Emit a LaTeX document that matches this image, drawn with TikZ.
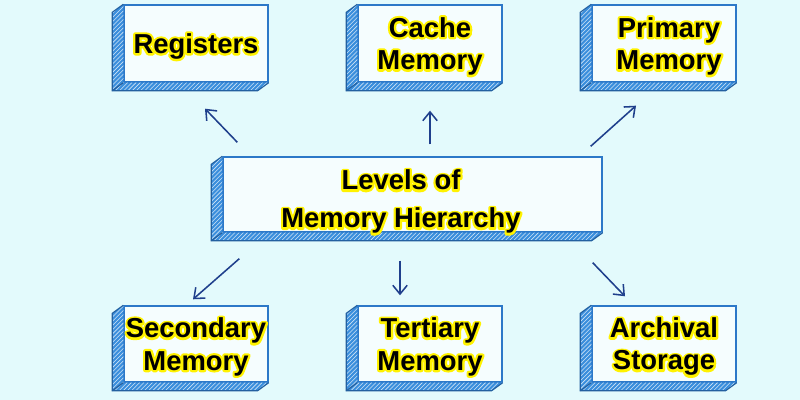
\documentclass[tikz,border=0pt]{standalone}
\usepackage{fontspec}
\setmainfont{Liberation Sans}
\newfontface\halofont{Liberation Sans Bold}[FakeBold=16]
\usetikzlibrary{arrows.meta,patterns}
\definecolor{bgcyan}{HTML}{E3FAFC}
\definecolor{edgeblue}{HTML}{2C78C8}
\definecolor{slabblue}{HTML}{3A8EDC}
\definecolor{arrowblue}{HTML}{1F3F8C}
\definecolor{glow}{HTML}{FFF200}
\newcommand{\glowtext}[1]{\rlap{\special{pdf:literal 1 j}\halofont\color{glow}#1}#1}

\begin{document}
\begin{tikzpicture}[
  face/.style={draw=edgeblue, line width=1pt, fill=white!65!bgcyan, minimum width=3.6cm, minimum height=1.9cm, inner sep=0pt},
  lbl/.style={font=\bfseries\fontsize{19.5}{23}\selectfont, align=center, yshift=-2pt},
  slab/.style={draw=edgeblue!80!black, line width=0.8pt},
  arr/.style={-{Straight Barb[length=2.2mm,width=3.6mm]}, draw=arrowblue, line width=1.1pt}
]
  \fill[bgcyan] (0,0) rectangle (20,10);
  \useasboundingbox (0,0) rectangle (20,10);

  % top row
  \node[face, minimum height=1.925cm] (reg) at (4.9,8.9125) {};
  \node[face, minimum height=1.925cm] (cache) at (10.75,8.9125) {};
  \node[face, minimum height=1.925cm] (prim) at (16.6,8.9125) {};
  % middle
  \node[face, minimum width=9.475cm, minimum height=1.875cm] (hier) at (10.3125,5.1375) {};
  % bottom row
  \node[face] (sec) at (4.9,1.4) {};
  \node[face] (ter) at (10.75,1.4) {};
  \node[face] (arch) at (16.6,1.4) {};

  % slabs on the left and bottom
  \foreach \n in {reg,cache,prim,hier,sec,ter,arch}{
    \fill[slabblue] (\n.north west) -- ++(-0.275,-0.2) -- ([xshift=-0.275cm,yshift=-0.2cm]\n.south west)
      -- ([xshift=-0.275cm,yshift=-0.2cm]\n.south east) -- (\n.south east) -- (\n.south west) -- cycle;
    \fill[pattern=north east lines, pattern color=white!75!slabblue] (\n.north west) -- ++(-0.275,-0.2)
      -- ([xshift=-0.275cm,yshift=-0.2cm]\n.south west) -- ([xshift=-0.275cm,yshift=-0.2cm]\n.south east)
      -- (\n.south east) -- (\n.south west) -- cycle;
    \draw[slab] (\n.north west) -- ++(-0.275,-0.2) -- ([xshift=-0.275cm,yshift=-0.2cm]\n.south west)
      -- ([xshift=-0.275cm,yshift=-0.2cm]\n.south east) -- (\n.south east);
    \draw[slab] (\n.south west) -- ([xshift=-0.275cm,yshift=-0.2cm]\n.south west);
  }

  % labels
  \node[lbl] (reg-text) at (reg) {\glowtext{Registers}};
  \node[lbl] (cache-text) at (cache) {\glowtext{Cache}\\\glowtext{Memory}};
  \node[lbl] (prim-text) at ([xshift=0.125cm]prim.center) {\glowtext{Primary}\\\glowtext{Memory}};
  \node[lbl, font=\bfseries\fontsize{19.5}{27}\selectfont] (hier-text) at (10.025,5.025) {\glowtext{Levels of}\\\glowtext{Memory Hierarchy}};
  \node[lbl] (sec-text) at (sec) {\glowtext{Secondary}\\\glowtext{Memory}};
  \node[lbl] (ter-text) at (ter) {\glowtext{Tertiary}\\\glowtext{Memory}};
  \node[lbl] (arch-text) at (arch) {\glowtext{Archival}\\\glowtext{Storage}};

  % arrows
  \draw[arr] ([xshift=0.375cm,yshift=0.35cm]hier.north west) -- ([xshift=0.225cm,yshift=-0.65cm]reg.south);
  \draw[arr] ([xshift=0.4375cm,yshift=0.3cm]hier.north) -- ([yshift=-0.7cm]cache.south);
  \draw[arr] ([xshift=-0.3cm,yshift=0.25cm]hier.north east) -- ([xshift=-0.7cm,yshift=-0.575cm]prim.south);
  \draw[arr] ([xshift=0.425cm,yshift=-0.65cm]hier.south west) -- ([xshift=-0.075cm,yshift=0.15cm]sec.north);
  \draw[arr] ([xshift=-0.3125cm,yshift=-0.7cm]hier.south) -- ([xshift=-0.75cm,yshift=0.25cm]ter.north);
  \draw[arr] ([xshift=-0.25cm,yshift=-0.75cm]hier.south east) -- ([xshift=-0.975cm,yshift=0.225cm]arch.north);
\end{tikzpicture}
\end{document}
